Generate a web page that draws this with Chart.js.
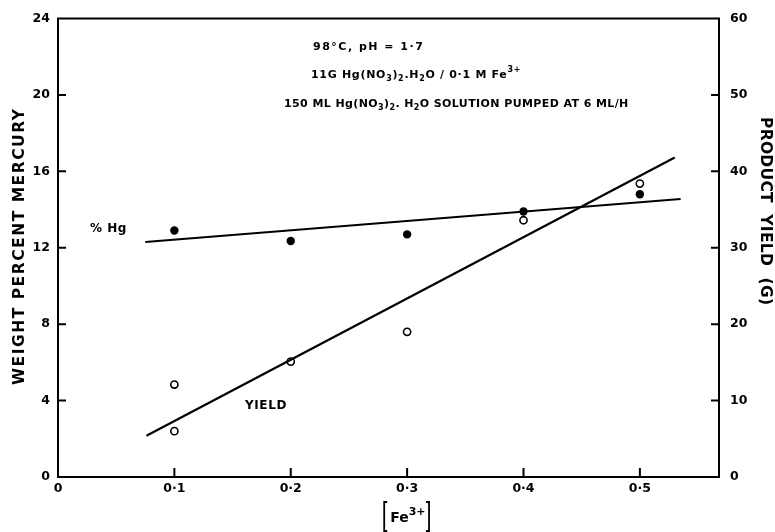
<!DOCTYPE html>
<html>
<head>
<meta charset="utf-8">
<script src="https://cdn.jsdelivr.net/npm/chart.js@4/dist/chart.umd.min.js"></script>
<style>
  html, body { margin: 0; padding: 0; background: #fff; }
  #wrap { width: 775px; height: 532px; position: relative; }
</style>
</head>
<body>
<div id="wrap"><canvas id="c"></canvas></div>
<script>
// Fe3+ concentration (M) of each run
const feConc = [0.1, 0.2, 0.3, 0.4, 0.5];
// weight percent mercury in the product
const hgPercent = [12.9, 12.35, 12.7, 13.9, 14.8];
// product yield (g), two runs at 0.1 M
const yieldConc = [0.1, 0.1, 0.2, 0.3, 0.4, 0.5];
const yieldGrams = [12.1, 6.0, 15.1, 19.0, 33.6, 38.4];
// fitted straight lines (end points)
const hgFitConc = [0.075, 0.535];
const hgFitPercent = [12.3, 14.55];
const yieldFitConc = [0.076, 0.53];
const yieldFitGrams = [5.4, 41.8];
// axis ticks
const xTickValues = [0, 0.1, 0.2, 0.3, 0.4, 0.5];
const xTickLabels = ['0', '0·1', '0·2', '0·3', '0·4', '0·5'];
const leftTickValues = [0, 4, 8, 12, 16, 20, 24];
const rightTickValues = [0, 10, 20, 30, 40, 50, 60];

const FONT = '"DejaVu Sans", Verdana, sans-serif';
const tickFont = { family: FONT, size: 12.5, weight: 'bold' };

const pts = (xs, ys) => xs.map((x, i) => ({ x, y: ys[i] }));

// draws a string made of normal / subscript / superscript pieces
function drawRich(ctx, x, y, parts, size, spacing) {
  let cx = x;
  ctx.textBaseline = 'middle';
  ctx.textAlign = 'left';
  ctx.letterSpacing = (spacing || 0) + 'px';
  for (const [txt, kind] of parts) {
    const s = kind ? Math.round(size * 0.75) : size;
    const dy = kind === 'sub' ? size * 0.38 : kind === 'sup' ? -size * 0.42 : 0;
    ctx.font = 'bold ' + s + 'px ' + FONT;
    ctx.fillText(txt, cx, y + dy);
    cx += ctx.measureText(txt).width;
  }
  ctx.letterSpacing = '0px';
  return cx;
}

// rotated axis title stretched to a given length via letter spacing
function drawAxisTitle(ctx, text, cx, cy, angle, size, length) {
  ctx.save();
  ctx.font = 'bold ' + size + 'px ' + FONT;
  ctx.letterSpacing = '0px';
  const w = ctx.measureText(text).width;
  const sp = (length - w) / (text.length - 1);
  ctx.letterSpacing = sp + 'px';
  ctx.translate(cx, cy);
  ctx.rotate(angle);
  ctx.textAlign = 'left';
  ctx.textBaseline = 'middle';
  ctx.fillText(text, -length / 2, 0);
  ctx.restore();
}

const frame = {
  id: 'frame',
  afterDraw(chart) {
    const { ctx, chartArea: a, scales } = chart;
    ctx.save();
    ctx.strokeStyle = '#000';
    ctx.fillStyle = '#000';
    ctx.lineWidth = 2;
    ctx.strokeRect(a.left, a.top, a.right - a.left, a.bottom - a.top);
    // inward tick marks
    ctx.beginPath();
    scales.y.ticks.forEach(t => {
      if (t.value <= 0 || t.value >= 24) return;
      const py = scales.y.getPixelForValue(t.value);
      ctx.moveTo(a.left, py); ctx.lineTo(a.left + 8, py);
    });
    scales.y1.ticks.forEach(t => {
      if (t.value <= 0 || t.value >= 60) return;
      const py = scales.y1.getPixelForValue(t.value);
      ctx.moveTo(a.right, py); ctx.lineTo(a.right - 8, py);
    });
    scales.x.ticks.forEach(t => {
      if (t.value <= 0) return;
      const px = scales.x.getPixelForValue(t.value);
      ctx.moveTo(px, a.bottom); ctx.lineTo(px, a.bottom - 9);
    });
    ctx.stroke();

    // conditions block
    const s = 11;
    drawRich(ctx, 313, 47, [['98°C, pH = 1·7']], s, 1.5);
    drawRich(ctx, 311, 75, [['11G Hg(NO'], ['3', 'sub'], [')'], ['2', 'sub'], ['.H'], ['2', 'sub'], ['O / 0·1 M Fe'], ['3+', 'sup']], s, 0.7);
    drawRich(ctx, 284, 104, [['150 ML Hg(NO'], ['3', 'sub'], [')'], ['2', 'sub'], ['. H'], ['2', 'sub'], ['O SOLUTION PUMPED AT 6 ML/H']], s, 0.4);

    // curve labels
    drawRich(ctx, 90, 229, [['% Hg']], 12, 0.5);
    drawRich(ctx, 245, 406, [['YIELD']], 12, 0.6);

    // axis titles
    drawAxisTitle(ctx, 'WEIGHT PERCENT MERCURY', 20, 247, -Math.PI / 2, 15.5, 276);
    drawAxisTitle(ctx, 'PRODUCT  YIELD  (G)', 765, 211, Math.PI / 2, 15.5, 188);

    // x axis title [Fe3+]
    const cx = scales.x.getPixelForValue(0.3);
    ctx.font = 'bold 14px ' + FONT;
    const w1 = ctx.measureText('Fe').width;
    ctx.font = 'bold 10px ' + FONT;
    const w2 = ctx.measureText('3+').width;
    const tw = w1 + w2;
    const x0 = cx - tw / 2;
    drawRich(ctx, x0, 518, [['Fe'], ['3+', 'sup']], 14);
    ctx.lineWidth = 1.8;
    ctx.beginPath();
    const bl = x0 - 6, br = x0 + tw + 5, bt = 502, bb = 531;
    ctx.moveTo(bl + 3, bt); ctx.lineTo(bl, bt); ctx.lineTo(bl, bb); ctx.lineTo(bl + 3, bb);
    ctx.moveTo(br - 3, bt); ctx.lineTo(br, bt); ctx.lineTo(br, bb); ctx.lineTo(br - 3, bb);
    ctx.stroke();
    ctx.restore();
  }
};

new Chart(document.getElementById('c'), {
  type: 'scatter',
  data: {
    datasets: [
      {
        label: '% Hg fit', data: pts(hgFitConc, hgFitPercent), yAxisID: 'y',
        showLine: true, borderColor: '#000', borderWidth: 2, pointRadius: 0, fill: false
      },
      {
        label: 'Yield fit', data: pts(yieldFitConc, yieldFitGrams), yAxisID: 'y1',
        showLine: true, borderColor: '#000', borderWidth: 2.2, pointRadius: 0, fill: false
      },
      {
        label: '% Hg', data: pts(feConc, hgPercent), yAxisID: 'y',
        pointRadius: 4.2, pointBackgroundColor: '#000', pointBorderColor: '#000', pointBorderWidth: 0
      },
      {
        label: 'Yield', data: pts(yieldConc, yieldGrams), yAxisID: 'y1',
        pointRadius: 3.6, pointBackgroundColor: '#fff', pointBorderColor: '#000', pointBorderWidth: 1.6
      }
    ]
  },
  options: {
    responsive: true,
    maintainAspectRatio: false,
    animation: false,
    layout: { padding: { top: 16, left: 0, right: 0, bottom: 0 } },
    plugins: { legend: { display: false }, tooltip: { enabled: false } },
    scales: {
      x: {
        type: 'linear', min: 0, max: 0.568,
        grid: { display: false, drawTicks: false }, border: { display: false },
        afterBuildTicks: s => { s.ticks = xTickValues.map(v => ({ value: v })); },
        afterFit: s => { s.height = 55; },
        ticks: {
          color: '#000', font: tickFont, padding: 4, maxRotation: 0,
          callback: (v) => xTickLabels[xTickValues.indexOf(v)] ?? ''
        }
      },
      y: {
        type: 'linear', position: 'left', min: 0, max: 24,
        grid: { display: false, drawTicks: false }, border: { display: false },
        afterBuildTicks: s => { s.ticks = leftTickValues.map(v => ({ value: v })); },
        afterFit: s => { s.width = 58; },
        ticks: { color: '#000', font: tickFont, padding: 8 }
      },
      y1: {
        type: 'linear', position: 'right', min: 0, max: 60,
        grid: { display: false, drawTicks: false }, border: { display: false },
        afterBuildTicks: s => { s.ticks = rightTickValues.map(v => ({ value: v })); },
        afterFit: s => { s.width = 56; },
        ticks: { color: '#000', font: tickFont, padding: 11 }
      }
    }
  },
  plugins: [frame]
});
</script>
</body>
</html>
